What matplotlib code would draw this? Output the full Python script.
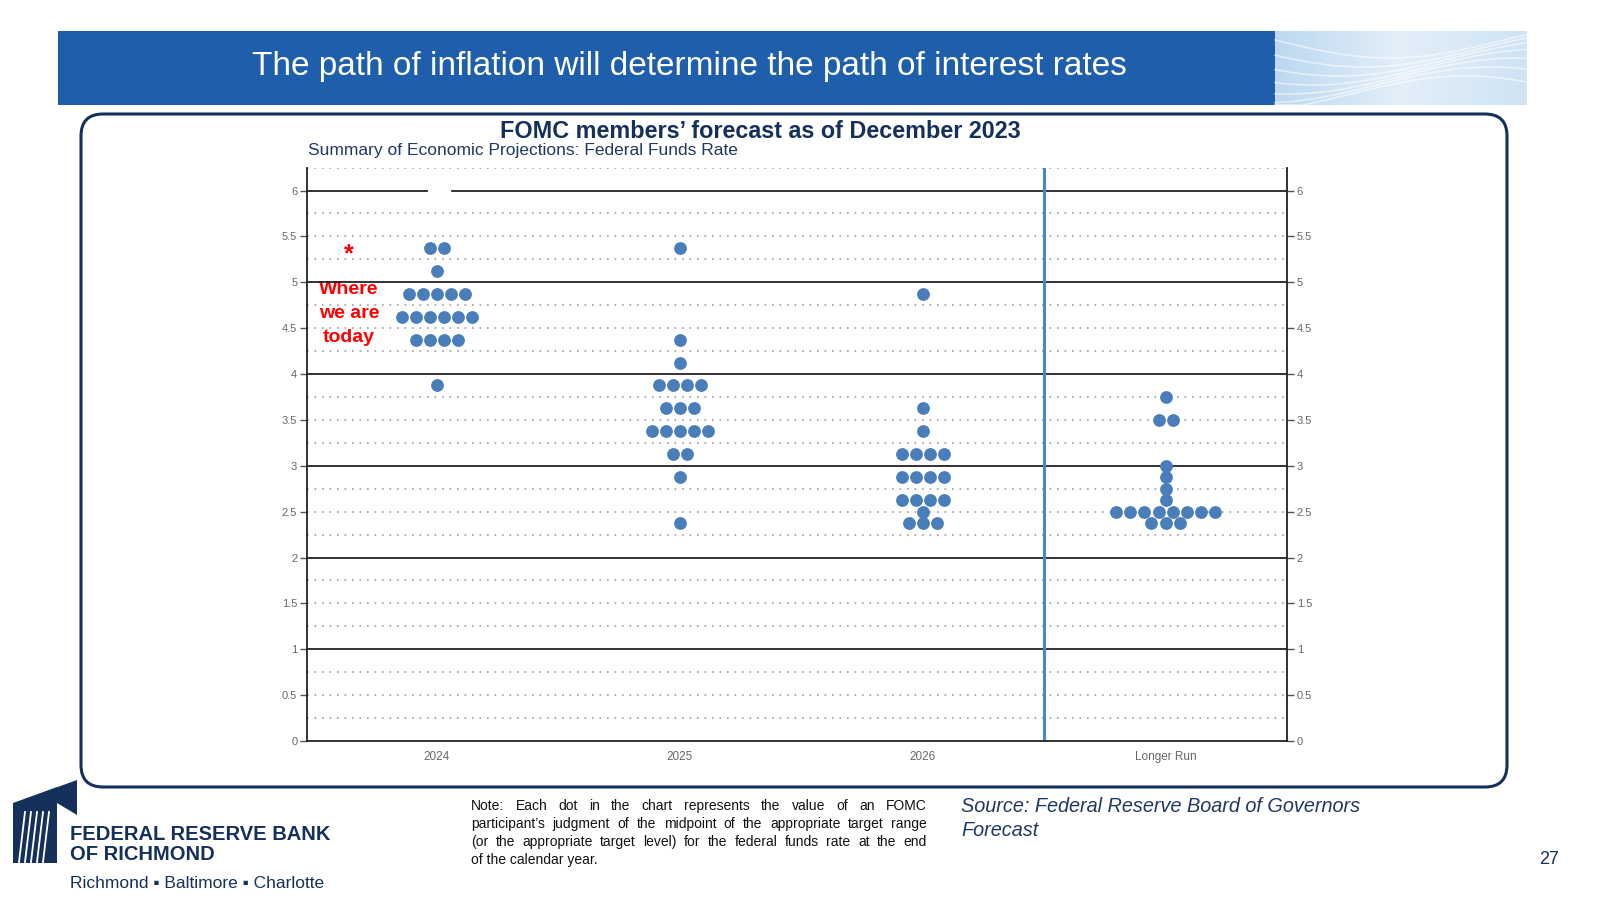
import matplotlib
matplotlib.use('Agg')
import matplotlib.pyplot as plt
import numpy as np
from matplotlib.patches import FancyBboxPatch, Rectangle, Polygon
from matplotlib.colors import LinearSegmentedColormap

plt.rcParams['font.family'] = ['Liberation Sans', 'DejaVu Sans']

# ---------------- data ----------------
categories = ['2024', '2025', '2026', 'Longer Run']
levels_2024 = [5.375, 5.125, 4.875, 4.625, 4.375, 3.875]
counts_2024 = [2, 1, 5, 6, 4, 1]
levels_2025 = [5.375, 4.375, 4.125, 3.875, 3.625, 3.375, 3.125, 2.875, 2.375]
counts_2025 = [1, 1, 1, 4, 3, 5, 2, 1, 1]
levels_2026 = [4.875, 3.625, 3.375, 3.125, 2.875, 2.625, 2.5, 2.375]
counts_2026 = [1, 1, 1, 4, 4, 4, 1, 3]
levels_lr = [3.75, 3.5, 3.0, 2.875, 2.75, 2.625, 2.5, 2.375]
counts_lr = [1, 2, 1, 1, 1, 1, 8, 3]
ytick_values = [0, 0.5, 1, 1.5, 2, 2.5, 3, 3.5, 4, 4.5, 5, 5.5, 6]
ytick_labels = ['0', '0.5', '1', '1.5', '2', '2.5', '3', '3.5', '4', '4.5', '5', '5.5', '6']

banner_title = 'The path of inflation will determine the path of interest rates'
chart_title = 'FOMC members\u2019 forecast as of December 2023'
chart_subtitle = 'Summary of Economic Projections: Federal Funds Rate'
note_lines = ['Note: Each dot in the chart represents the value of an FOMC',
              'participant\u2019s judgment of the midpoint of the appropriate target range',
              '(or the appropriate target level) for the federal funds rate at the end',
              'of the calendar year.']
source_lines = ['Source: Federal Reserve Board of Governors', 'Forecast']

NAVY = '#16305c'
DOT = '#4a7ebb'

fig = plt.figure(figsize=(16, 9), dpi=100)
bg = fig.add_axes([0, 0, 1, 1], zorder=0)
bg.set_xlim(0, 1600)
bg.set_ylim(900, 0)
bg.axis('off')

# banner
bg.add_patch(Rectangle((58, 31), 1217, 74, facecolor='#1e5eaa', edgecolor='none'))
grad = np.linspace(0, 1, 256)[None, :]
cm = LinearSegmentedColormap.from_list('b', ['#bcd8f0', '#e3eff9', '#cfe3f4'])
bg.imshow(grad, extent=[1275, 1527, 105, 31], cmap=cm, aspect='auto', zorder=1)
tt = np.linspace(1275, 1527, 100)
for k in range(7):
    yy = 40 + k * 9 + 18 * np.sin((tt - 1275) / 252 * np.pi * 1.1 + k * 0.35)
    bg.plot(tt, np.clip(yy, 31, 105), color='white', lw=1.2, alpha=0.55, zorder=2)
bg.text(689, 66, banner_title, color='white', fontsize=24, ha='center', va='center')

# rounded box
bg.add_patch(FancyBboxPatch((81, 114), 1426, 673, boxstyle='round,pad=0,rounding_size=22',
                            facecolor='white', edgecolor=NAVY, lw=2.2))

bg.text(760, 132, chart_title, color=NAVY, fontsize=16.8, fontweight='bold', ha='center', va='center')
bg.text(308, 150, chart_subtitle, color='#1f3864', fontsize=12.5, ha='left', va='center')

# red annotation
bg.text(349, 254, '*', color='red', fontsize=18, fontweight='bold', ha='center', va='center')
for txt, yy in zip(['Where', 'we are', 'today'], [289, 313, 337]):
    bg.text(349, yy, txt, color='red', fontsize=14, fontweight='bold', ha='center', va='center')

# ---------------- chart axes ----------------
ax = fig.add_axes([307 / 1600, (900 - 741) / 900, 980 / 1600, (741 - 167.6) / 900], zorder=2)
ax.set_facecolor('none')
ax.set_xlim(-0.535, 3.5)
ax.set_ylim(0, 6.25)
ax.spines['top'].set_visible(False)
for s in ['left', 'right', 'bottom']:
    ax.spines[s].set_color('#222222')
    ax.spines[s].set_linewidth(1.3)

for k in range(1, 26):
    yv = k * 0.25
    if k % 4 == 0:
        if yv == 6:
            ax.axhline(yv, xmin=0, xmax=(-0.04 + 0.535) / 4.035, color='#222222', lw=1.3, zorder=1)
            ax.axhline(yv, xmin=(0.062 + 0.535) / 4.035, xmax=1, color='#222222', lw=1.3, zorder=1)
        else:
            ax.axhline(yv, color='#222222', lw=1.3, zorder=1)
    else:
        ax.axhline(yv, color='#a0a0a0', lw=1.2, ls=(0, (1, 3.5)), zorder=1)

ax.axvline(2.5, color='#4a86c8', lw=2.2, zorder=2)

step = 0.058
all_levels = [levels_2024, levels_2025, levels_2026, levels_lr]
all_counts = [counts_2024, counts_2025, counts_2026, counts_lr]
xs, ys = [], []
for ci, (levs, cnts) in enumerate(zip(all_levels, all_counts)):
    for lv, n in zip(levs, cnts):
        for i in range(n):
            xs.append(ci + (i - (n - 1) / 2) * step)
            ys.append(lv)
ax.scatter(xs, ys, s=85, color=DOT, linewidths=0, zorder=3)

ax.set_yticks(ytick_values)
ax.set_yticklabels(ytick_labels)
ax.tick_params(axis='y', left=True, right=True, labelleft=True, labelright=True,
               length=5, width=1, color='#555555', labelcolor='#666666', labelsize=8, pad=2)
ax.set_xticks(range(len(categories)))
ax.set_xticklabels(categories)
ax.tick_params(axis='x', length=0, labelcolor='#666666', labelsize=8.5, pad=7)

# ---------------- footer ----------------
# logo emblem
bg.add_patch(Polygon([(13, 803), (57, 787), (57, 863), (13, 863)],
                     closed=True, facecolor=NAVY, edgecolor='none'))
bg.add_patch(Polygon([(55, 788), (77, 780), (77, 815), (57, 803)],
                     closed=True, facecolor=NAVY, edgecolor='none'))
for xl in [22, 28, 34, 40, 46]:
    bg.plot([xl + 3, xl - 3], [812, 862], color='white', lw=1.3)

bg.text(70, 834, 'FEDERAL RESERVE BANK', color=NAVY, fontsize=14.5, fontweight='bold',
        ha='left', va='center')
bg.text(70, 855, 'OF RICHMOND', color=NAVY, fontsize=14.5, fontweight='bold',
        ha='left', va='center')
bg.text(70, 883, 'Richmond \u25aa Baltimore \u25aa Charlotte', color=NAVY, fontsize=12.5,
        ha='left', va='center')

# justified note
renderer = fig.canvas.get_renderer()
x0, x1 = 471, 927
note_ys = [806, 824, 842, 860]
for li, (line, yy) in enumerate(zip(note_lines, note_ys)):
    if li == len(note_lines) - 1:
        bg.text(x0, yy, line, fontsize=10, color='#111111', ha='left', va='center')
        continue
    words = line.split()
    tx = [bg.text(0, yy, w, fontsize=10, color='#111111', ha='left', va='center')
          for w in words]
    widths = [t.get_window_extent(renderer).width for t in tx]
    gap = (x1 - x0 - sum(widths)) / (len(words) - 1)
    xc = x0
    for t, w in zip(tx, widths):
        t.set_x(xc)
        xc += w + gap

for txt, yy in zip(source_lines, [807, 831]):
    bg.text(961, yy, txt, color='#1f3864', fontsize=14.3, style='italic', ha='left', va='center')

bg.text(1549, 860, '27', color=NAVY, fontsize=13, ha='center', va='center')

fig.savefig('out.png', dpi=100)
